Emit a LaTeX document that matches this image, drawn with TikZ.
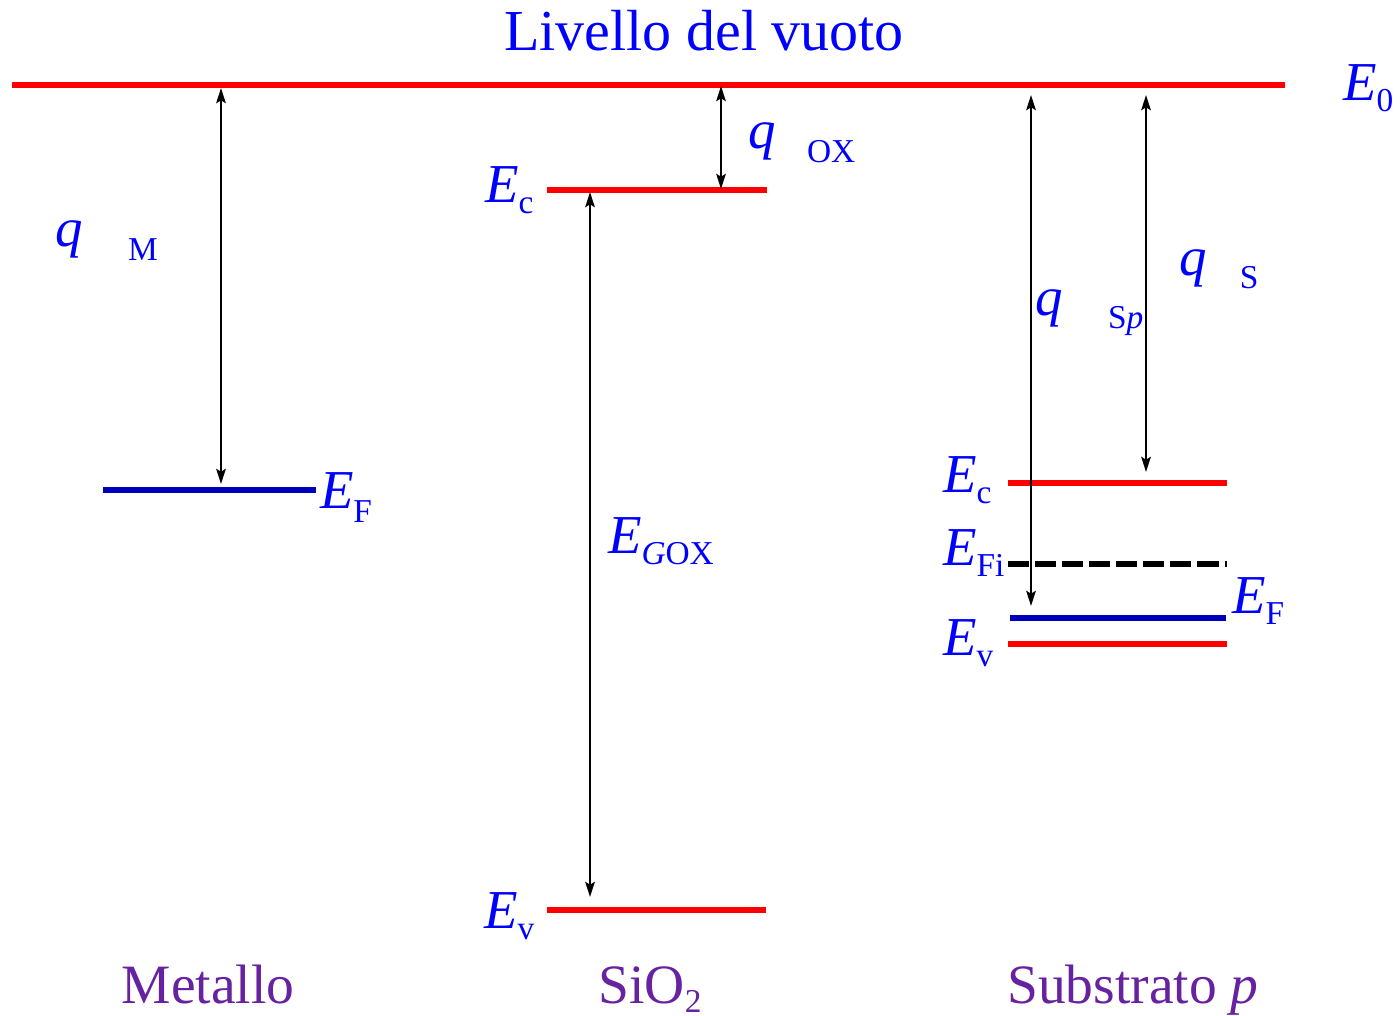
\documentclass[tikz,border=0pt]{standalone}
\usepackage{fontspec}
\setmainfont{Liberation Serif}
\usetikzlibrary{arrows.meta}
\definecolor{lvred}{RGB}{255,0,0}
\definecolor{lvblue}{RGB}{0,0,255}
\definecolor{fermiblue}{RGB}{0,0,185}
\definecolor{matpurple}{RGB}{102,34,160}
\newcommand{\lsub}[2][3.4pt]{\raisebox{-#1}{\fontsize{9.5}{10}\selectfont #2}}
\begin{document}
\begin{tikzpicture}[x=0.1mm,y=-0.1mm,
  lbl/.style={anchor=base west, inner sep=0pt, outer sep=0pt, text=lvblue, font=\fontsize{15.6}{18}\selectfont},
  mat/.style={anchor=base, inner sep=0pt, outer sep=0pt, text=matpurple, font=\fontsize{15.8}{18}\selectfont},
  level/.style={line width=1.6pt, draw=lvred},
  fermi/.style={line width=1.6pt, draw=fermiblue},
  intrinsic/.style={line width=1.6pt, draw=black, dash pattern=on 6pt off 1.7pt},
  tipx/.tip={Stealth[length=4.3pt,width=2.7pt,inset=0.8pt]},
  dimarrow/.style={line width=0.65pt, draw=black, tipx-tipx},
]
\useasboundingbox (0,0) rectangle (1400,1015);

% vacuum level
\coordinate (vacL) at (12,85);
\coordinate (vacR) at (1285,85);
\draw[level] (vacL) -- (vacR);
\node[anchor=base, inner sep=0pt, text=lvblue, font=\fontsize{16.5}{19}\selectfont] (title) at (704,50) {Livello del vuoto};
\node[lbl] (E0) at (1343,100) {\textit{E}\lsub{0}};

% metal
\coordinate (mEFL) at (103,490);
\coordinate (mEFR) at (316,490);
\draw[fermi] (mEFL) -- (mEFR);
\node[lbl] (mEF) at (320,508) {\textit{E}\lsub[4pt]{F}};
\coordinate (phiMtop) at (221,88);
\coordinate (phiMbot) at (221,484);
\draw[dimarrow] (phiMtop) -- (phiMbot);
\node[lbl] (qphiM) at (55,246) {\textit{q}\hspace{13pt}\lsub[4.2pt]{M}};

% oxide
\coordinate (oxEcL) at (547,190);
\coordinate (oxEcR) at (767,190);
\draw[level] (oxEcL) -- (oxEcR);
\coordinate (oxEvL) at (547,910);
\coordinate (oxEvR) at (766,910);
\draw[level] (oxEvL) -- (oxEvR);
\node[lbl] (oxEc) at (485,202) {\textit{E}\lsub[3.2pt]{c}};
\node[lbl] (oxEv) at (484,928) {\textit{E}\lsub[3.4pt]{v}};
\coordinate (chiTop) at (721,86);
\coordinate (chiBot) at (721,189);
\draw[dimarrow] (chiTop) -- (chiBot);
\node[lbl] (qchi) at (748,148) {\textit{q}\hspace{9pt}\lsub[4.2pt]{OX}};
\coordinate (egTop) at (590,192);
\coordinate (egBot) at (590,897);
\draw[dimarrow] (egTop) -- (egBot);
\node[lbl] (EG) at (608,553) {\textit{E}\lsub[3.4pt]{\textit{G}OX}};

% substrate
\coordinate (sEcL) at (1008,483);
\coordinate (sEcR) at (1227,483);
\draw[level] (sEcL) -- (sEcR);
\coordinate (sEiL) at (1008,564);
\coordinate (sEiR) at (1227,564);
\draw[intrinsic] (sEiL) -- (sEiR);
\coordinate (sEFL) at (1010,618);
\coordinate (sEFR) at (1226,618);
\draw[fermi] (sEFL) -- (sEFR);
\coordinate (sEvL) at (1008,644);
\coordinate (sEvR) at (1227,644);
\draw[level] (sEvL) -- (sEvR);
\node[lbl] (sEc) at (943,492) {\textit{E}\lsub[3.2pt]{c}};
\node[lbl] (sEi) at (943,565) {\textit{E}\lsub[3.4pt]{Fi}};
\node[lbl] (sEF) at (1232,613) {\textit{E}\lsub[3.4pt]{F}};
\node[lbl] (sEv) at (943,655) {\textit{E}\lsub[3.4pt]{v}};
\coordinate (phiSpTop) at (1031,95);
\coordinate (phiSpBot) at (1031,606);
\draw[dimarrow] (phiSpTop) -- (phiSpBot);
\coordinate (phiSTop) at (1146,95);
\coordinate (phiSBot) at (1146,472);
\draw[dimarrow] (phiSTop) -- (phiSBot);
\node[lbl] (qphiSp) at (1035,315) {\textit{q}\hspace{13pt}\lsub[3.7pt]{S\textit{p}}};
\node[lbl] (qphiS) at (1179,275) {\textit{q}\hspace{9.5pt}\lsub[3.7pt]{S}};

% material labels
\node[mat] (metal) at (208,1003) {Metallo};
\node[mat] (oxide) at (650,1003) {SiO\lsub[2.6pt]{2}};
\node[mat] (subst) at (1133,1003) {Substrato \textit{p}};
\end{tikzpicture}
\end{document}
